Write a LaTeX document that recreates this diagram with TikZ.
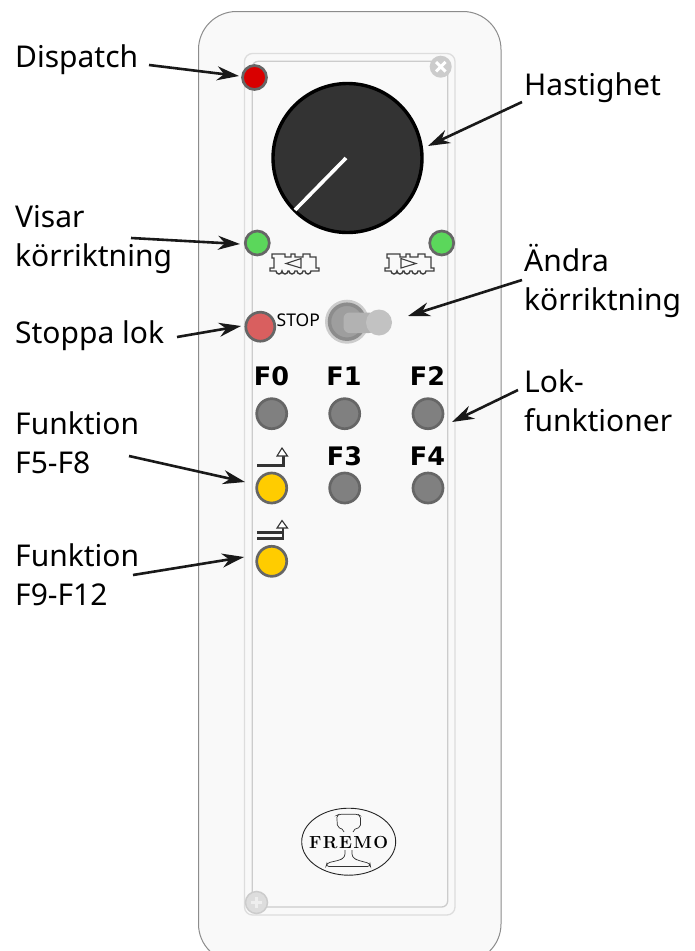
\documentclass[tikz,border=0pt]{standalone}
\usepackage{fontspec}
\setmainfont{Noto Sans}
\newfontfamily\djv{DejaVu Sans}
\newfontfamily\lm{Latin Modern Roman}
\usetikzlibrary{arrows.meta}
\definecolor{panelfill}{HTML}{F9F9F9}
\definecolor{ringa}{HTML}{DDDDDD}
\definecolor{ringb}{HTML}{CCCCCC}
\definecolor{ledrim}{HTML}{666666}
\definecolor{ledgray}{HTML}{808080}
\definecolor{ledyellow}{HTML}{FFCC00}
\definecolor{ledgreen}{HTML}{5BD75B}
\definecolor{ledstop}{HTML}{D95F5F}
\definecolor{ledred}{HTML}{D90000}
\tikzset{
  x=1pt,y=-1pt,
  lbl/.style={font=\fontsize{30}{39}\selectfont,align=left,anchor=west,inner sep=0pt,text=black},
  fkey/.style={font=\djv\bfseries\fontsize{25.5}{30}\selectfont,inner sep=0pt},
  led/.style={circle,draw=ledrim,line width=2.7pt,minimum size=#1,inner sep=0pt},
  led/.default=24pt,
  fbtn/.style={led=30pt,fill=ledgray},
  ybtn/.style={led=30pt,fill=ledyellow},
  callout/.style={draw=black!90,line width=2.6pt,-{Stealth[length=22pt,width=14pt,inset=7pt]}},
  sym/.style={draw=black!80,line width=1.4pt,line join=miter},
  symhead/.style={draw=black!80,line width=1.1pt,fill=white},
}
\begin{document}
\begin{tikzpicture}
\useasboundingbox (0,0) rectangle (695,951);
\clip (0,0) rectangle (695,951);
% panel
\draw[draw=black!45,fill=panelfill,line width=1pt,rounded corners=38pt] (198.5,11.5) rectangle (501,962);
\draw[ringa,line width=1.3pt,rounded corners=8pt] (244.5,53.5) rectangle (455,915);
\draw[ringb,line width=1.3pt,rounded corners=6pt] (252.3,61.3) rectangle (447.7,907);
% screws
\node[circle,fill=ringb,minimum size=22pt,inner sep=0pt] (screwa) at (440.7,66.7) {};
\draw[white,line width=3pt] (436,62)--(445.5,71.5) (445.5,62)--(436,71.5);
\node[circle,draw=ringb,line width=1.5pt,fill=ringa,minimum size=22pt,inner sep=0pt] (screwb) at (256.5,902.5) {};
\draw[panelfill!60!ringa,line width=3pt] (256.5,897)--(256.5,908) (251,902.5)--(262,902.5);
% knob
\node[circle,draw=black,line width=3.4pt,fill=black!80,minimum size=149pt,inner sep=0pt] (knob) at (347.5,158) {};
\coordinate (pa) at (346,158);
\coordinate (pb) at (295,210);
\draw[white,line width=3.6pt] (pa)--(pb);
% leds
\node[led,fill=ledred] (dispatch) at (254.5,77.5) {};
\node[led,fill=ledgreen] (gl) at (257.3,243) {};
\node[led,fill=ledgreen] (gr) at (441.7,243) {};
\node[led=29pt,fill=ledstop] (stopb) at (260.3,326.7) {};
\node[font=\fontsize{17.5}{20}\selectfont,inner sep=0pt,anchor=west] (stoptxt) at (276.5,320.5) {STOP};
% locos
\foreach \dx/\tipa in {0/0,115/1}{
\begin{scope}[shift={(\dx,0)}]
\draw[sym,black!75,fill=panelfill]
 (272,254) -- (285,254) -- (285,257) -- (291,257) -- (291,254) -- (295,254) -- (295,257) -- (303,257)
 -- (303,254) -- (310,254) -- (310,257) -- (316,257) -- (316,268) -- (319,268) -- (319,271) -- (311,271)
 arc[start angle=0,end angle=180,radius=3] -- (303,271)
 arc[start angle=0,end angle=180,radius=3] -- (295,271)
 arc[start angle=0,end angle=180,radius=3] -- (288,271)
 arc[start angle=0,end angle=180,radius=3] -- (282,271)
 arc[start angle=0,end angle=180,radius=3] -- (270,271) -- (270,268) -- (274,268) -- (274,258) -- (272,258) -- cycle;
\ifnum\tipa=0
 \draw[sym,line width=1.1pt,black!75] (286,263.5)--(301,258.5)--(301,268)--cycle;
\else
 \draw[sym,line width=1.1pt,black!75] (301,263.5)--(286,258.5)--(286,268)--cycle;
\fi
\end{scope}}
% toggle
\node[circle,fill=black!20,minimum size=44pt,inner sep=0pt] (tga) at (347,321.7) {};
\node[circle,draw=black!45,line width=3.5pt,fill=black!38,minimum size=35pt,inner sep=0pt] (tgb) at (347,321.7) {};
\fill[black!30,rounded corners=6pt] (343.5,312.5) rectangle (375,333);
\node[circle,fill=black!24,minimum size=26pt,inner sep=0pt] (tgc) at (379,322.5) {};
% function labels and buttons
\node[fkey] (f0) at (271.5,376.5) {F0};
\node[fkey] (f1) at (344,376.5) {F1};
\node[fkey] (f2) at (427.5,376.5) {F2};
\node[fkey] (f3) at (344.5,456.5) {F3};
\node[fkey] (f4) at (427.5,456.5) {F4};
\node[fbtn] (b0) at (271.7,413.7) {};
\node[fbtn] (b1) at (344.7,413.7) {};
\node[fbtn] (b2) at (428,413.7) {};
\node[fbtn] (b3) at (344.7,488) {};
\node[fbtn] (b4) at (428,488) {};
\node[ybtn] (y1) at (271.7,488) {};
\node[ybtn] (y2) at (271.7,561.3) {};
% track symbols
\draw[sym,line width=3pt] (257,465)--(283,465)--(283,455);
\draw[symhead] (277,456)--(287.5,456)--(282,448)--cycle;
\draw[sym,line width=2.6pt] (257,532.5)--(283,532.5)--(283,526);
\draw[sym,line width=2.6pt] (257,538.5)--(283,538.5)--(283,532);
\draw[symhead] (277,528)--(287.5,528)--(282,520.5)--cycle;
% logo
\draw[black!85,line width=0.9pt] (348.7,841.7) ellipse[x radius=47,y radius=33.5];
\draw[black!80,line width=0.7pt,rounded corners=2pt]
 (344,832) -- (344,830) -- (337.5,827) -- (336.7,815.5) -- (339,814.3) -- (358,814.3) -- (360.5,816) -- (360.5,827) -- (353,830) -- (353,832);
\draw[black!80,line width=0.7pt,rounded corners=3pt]
 (345,850) -- (345,857) -- (340,860) -- (327,863) -- (326,866.5) -- (370.5,866.5) -- (370,863.5) -- (357,860) -- (352,857) -- (352,850);
\node[font=\lm\bfseries\fontsize{17.5}{20}\selectfont,inner sep=0pt] (logotxt) at (348.7,842) {F\kern1.4pt R\kern1.4pt E\kern1.4pt M\kern1.4pt O};
% labels
\node[lbl] (t1) at (15,59.5) {Dispatch};
\node[lbl] (t2) at (524,88) {Hastighet};
\node[lbl] (t3) at (15,240) {Visar\\körriktning};
\node[lbl] (t4) at (524,281) {Ändra\\körriktning};
\node[lbl] (t5) at (15,335.5) {Stoppa lok};
\node[lbl] (t6) at (15,442.5) {Funktion\\F5-F8};
\node[lbl] (t7) at (15,575) {Funktion\\F9-F12};
\node[lbl] (t8) at (524,400.5) {Lok-\\funktioner};
% connectors
\coordinate (s1) at (149,65);
\coordinate (e1) at (239,76);
\coordinate (s2) at (522,102);
\coordinate (e2) at (428,146);
\coordinate (s3) at (131,238);
\coordinate (e3) at (240,244);
\coordinate (s4) at (522,280);
\coordinate (e4) at (408,316);
\coordinate (s5) at (177,337);
\coordinate (e5) at (241,326);
\coordinate (s6) at (518,390);
\coordinate (e6) at (452,422);
\coordinate (s7) at (129,456);
\coordinate (e7) at (245,482);
\coordinate (s8) at (133,575);
\coordinate (e8) at (244,557);
\foreach \i in {1,...,8}{\draw[callout] (s\i)--(e\i);}
\end{tikzpicture}
\end{document}
